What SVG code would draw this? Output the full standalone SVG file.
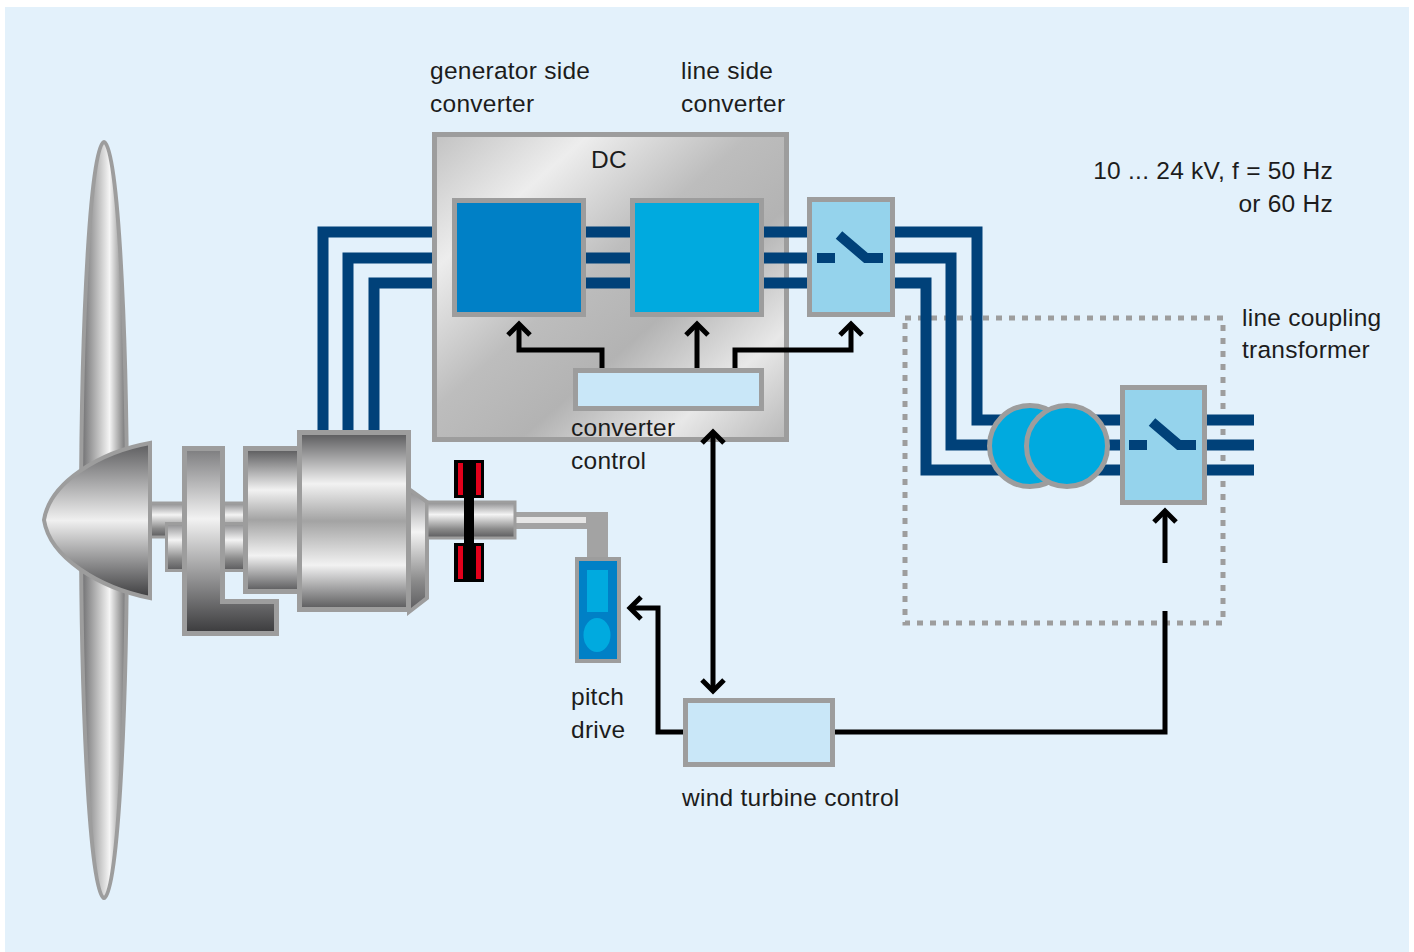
<svg xmlns="http://www.w3.org/2000/svg" width="1414" height="952" viewBox="0 0 1414 952">
<style>
.t{font-family:"Liberation Sans",Arial,Helvetica,sans-serif;font-size:24.5px;letter-spacing:0.25px;fill:#1c1c1c}
.bd{stroke:#9d9d9d;stroke-width:5}
.bl{fill:none;stroke:#004179;stroke-width:11;stroke-linejoin:miter;stroke-linecap:butt}
.sw{fill:none;stroke:#004179;stroke-width:10;stroke-linejoin:miter}
.ctl{fill:none;stroke:#000;stroke-width:5;stroke-linejoin:miter}
</style>
<defs>
<marker id="ah" markerUnits="userSpaceOnUse" markerWidth="30" markerHeight="34" viewBox="-20 -17 30 34" refX="0" refY="0" orient="auto-start-reverse">
<path d="M-11,-11 L0,0 L-11,11" fill="none" stroke="#000" stroke-width="5"/>
</marker>
<linearGradient id="gConv" x1="0" y1="0" x2="1" y2="1">
<stop offset="0" stop-color="#c2c2c2"/><stop offset="0.22" stop-color="#ededed"/><stop offset="0.45" stop-color="#bdbdbd"/><stop offset="0.62" stop-color="#b3b3b3"/><stop offset="0.82" stop-color="#e8e8e8"/><stop offset="1" stop-color="#b8b8b8"/>
</linearGradient>
<linearGradient id="gCyl" x1="0" y1="0" x2="0" y2="1">
<stop offset="0" stop-color="#58585a"/><stop offset="0.29" stop-color="#f2f2f2"/><stop offset="0.5" stop-color="#a3a3a3"/><stop offset="0.75" stop-color="#f2f2f2"/><stop offset="1" stop-color="#58585a"/>
</linearGradient>
<linearGradient id="gShaft" x1="0" y1="0" x2="0" y2="1">
<stop offset="0" stop-color="#8c8c8e"/><stop offset="0.35" stop-color="#f4f4f4"/><stop offset="0.75" stop-color="#8a8a8a"/><stop offset="1" stop-color="#5a5a5c"/>
</linearGradient>
<linearGradient id="gL" x1="0" y1="0" x2="0" y2="1">
<stop offset="0" stop-color="#7c7c7e"/><stop offset="0.38" stop-color="#f2f2f2"/><stop offset="1" stop-color="#3a3a3c"/>
</linearGradient>
<linearGradient id="gHub" x1="0" y1="0" x2="0" y2="1">
<stop offset="0" stop-color="#5c5c5e"/><stop offset="0.5" stop-color="#f0f0f0"/><stop offset="1" stop-color="#3c3c3e"/>
</linearGradient>
<linearGradient id="gBlade" x1="0" y1="0" x2="1" y2="0">
<stop offset="0" stop-color="#6c6c6e"/><stop offset="0.4" stop-color="#c4c4c4"/><stop offset="0.62" stop-color="#f5f5f5"/><stop offset="0.85" stop-color="#a0a0a0"/><stop offset="1" stop-color="#6c6c6e"/>
</linearGradient>
</defs>

<rect x="5" y="7" width="1404" height="945" fill="#e3f1fb"/>

<g id="rotor">
<ellipse cx="104" cy="520" rx="23" ry="378" fill="url(#gBlade)" stroke="#9d9d9d" stroke-width="4"/>
<rect x="148" y="503" width="160" height="34" fill="url(#gShaft)" stroke="#9d9d9d" stroke-width="3"/>
<path d="M150,443 C100,452 50,482 44,520 C50,558 100,588 150,598 Z" fill="url(#gHub)" stroke="#9d9d9d" stroke-width="4"/>
</g>

<g id="gearbox">
<rect x="166.5" y="523.5" width="82" height="47" fill="url(#gShaft)" stroke="#9d9d9d" stroke-width="3"/>
<path d="M184.5,448.5 H222.5 V601.5 H276.5 V633.5 H184.5 Z" fill="url(#gL)" class="bd"/>
</g>

<g id="connectors-power">
<path class="bl" d="M323,434 V232 H458"/>
<path class="bl" d="M348,434 V258 H458"/>
<path class="bl" d="M374,434 V283 H458"/>
</g>

<g id="generator">
<rect x="245.5" y="448.5" width="54" height="143" fill="url(#gCyl)" class="bd"/>
<path d="M409,489 L427,502 V598 L409,612 Z" fill="url(#gShaft)" stroke="#9d9d9d" stroke-width="4"/>
<rect x="299.5" y="432.5" width="109" height="177" fill="url(#gCyl)" class="bd"/>
</g>

<g id="shaft-brake">
<path d="M515,512 H608 V558 H587 V529 H515 Z" fill="#a3a3a3"/>
<rect x="515" y="517" width="71" height="6" fill="#e6e6e6"/>
<rect x="427" y="502" width="88" height="36" fill="url(#gShaft)" stroke="#9d9d9d" stroke-width="3"/>
<rect x="454" y="460" width="30" height="38" fill="#000"/>
<rect x="454" y="543" width="30" height="39" fill="#000"/>
<rect x="464" y="460" width="10" height="122" fill="#000"/>
<rect x="458" y="463" width="5" height="32" fill="#e3001b"/>
<rect x="476" y="463" width="5" height="32" fill="#e3001b"/>
<rect x="458" y="546" width="5" height="33" fill="#e3001b"/>
<rect x="476" y="546" width="5" height="33" fill="#e3001b"/>
</g>

<g id="pitch-drive">
<rect x="577" y="559" width="42" height="102" fill="#0080c6" stroke="#9d9d9d" stroke-width="4"/>
<rect x="587" y="570" width="21" height="42" fill="#00aadf"/>
<ellipse cx="597" cy="635" rx="13.5" ry="17" fill="#00aadf"/>
</g>

<g id="converter">
<rect x="434.5" y="134.5" width="352" height="305" fill="url(#gConv)" class="bd"/>
</g>

<g id="dotted-transformer-frame">
<rect x="905" y="318" width="318" height="305" fill="none" stroke="#9d9d9d" stroke-width="5" stroke-dasharray="6 7"/>
</g>

<g id="connectors">
<path class="bl" d="M580,232 H636 M580,258 H636 M580,283 H636"/>
<path class="bl" d="M758,232 H812 M758,258 H812 M758,283 H812"/>
<path class="bl" d="M890,232 H977 V420 H1126"/>
<path class="bl" d="M890,258 H951 V445 H1126"/>
<path class="bl" d="M890,283 H926 V470 H1126"/>
<path class="bl" d="M1200,420 H1254 M1200,445 H1254 M1200,470 H1254"/>
<path class="ctl" d="M602,370 V350 H519 V324" marker-end="url(#ah)"/>
<path class="ctl" d="M697,370 V324" marker-end="url(#ah)"/>
<path class="ctl" d="M735,370 V350 H851 V324" marker-end="url(#ah)"/>
<path class="ctl" d="M713,432 V691" marker-start="url(#ah)" marker-end="url(#ah)"/>
<path class="ctl" d="M686,732 H658 V608 H630" marker-end="url(#ah)"/>
<path class="ctl" d="M832,732 H1165 V611"/>
<path class="ctl" d="M1165,563 V511" marker-end="url(#ah)"/>
</g>

<g id="gen-side-converter">
<rect x="454.5" y="200.5" width="129" height="114" fill="#0080c6" class="bd"/>
</g>
<g id="line-side-converter">
<rect x="632.5" y="200.5" width="129" height="114" fill="#00aadf" class="bd"/>
</g>
<g id="converter-control">
<rect x="575.5" y="370.5" width="186" height="38" fill="#c9e7f8" class="bd"/>
</g>
<g id="switch-1">
<rect x="809.5" y="199.5" width="83" height="115" fill="#95d3ec" class="bd"/>
<path class="sw" d="M817,258 H835"/>
<path class="sw" d="M839,235 L866,258 H883"/>
</g>
<g id="transformer">
<circle cx="1030" cy="446" r="40.5" fill="#00aadf" class="bd"/>
<circle cx="1067" cy="446" r="40.5" fill="#00aadf" class="bd"/>
</g>
<g id="switch-2">
<rect x="1122.5" y="387.5" width="82" height="115" fill="#95d3ec" class="bd"/>
<path class="sw" d="M1129,445 H1147"/>
<path class="sw" d="M1152,422 L1179,445 H1196"/>
</g>
<g id="wind-turbine-control">
<rect x="685.5" y="700.5" width="147" height="64" fill="#c9e7f8" class="bd"/>
</g>

<g id="labels">
<text class="t" x="430" y="79">generator side</text>
<text class="t" x="430" y="112">converter</text>
<text class="t" x="681" y="79">line side</text>
<text class="t" x="681" y="112">converter</text>
<text class="t" x="591" y="168">DC</text>
<text class="t" x="1333" y="179" text-anchor="end">10 ... 24 kV, f = 50 Hz</text>
<text class="t" x="1333" y="212" text-anchor="end">or 60 Hz</text>
<text class="t" x="1242" y="326">line coupling</text>
<text class="t" x="1242" y="358">transformer</text>
<text class="t" x="571" y="436">converter</text>
<text class="t" x="571" y="469">control</text>
<text class="t" x="571" y="705">pitch</text>
<text class="t" x="571" y="738">drive</text>
<text class="t" x="682" y="806">wind turbine control</text>
</g>
</svg>
